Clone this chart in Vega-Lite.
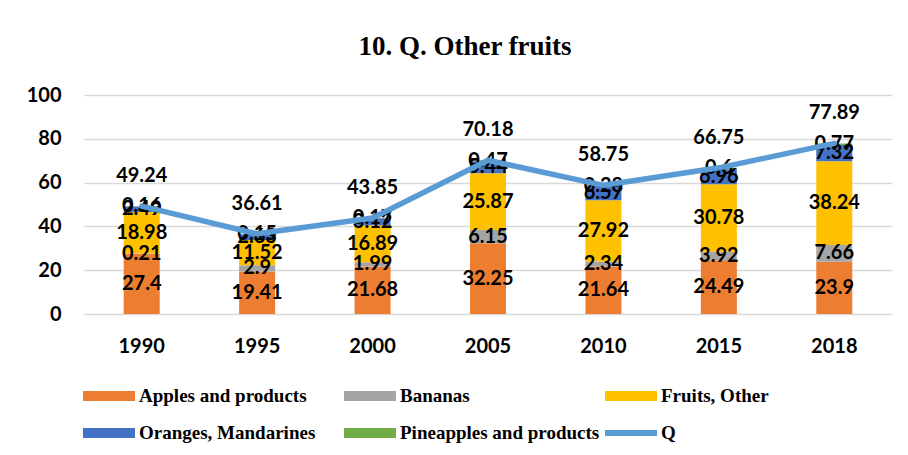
{
  "$schema": "https://vega.github.io/schema/vega-lite/v6.json",
  "autosize": {"type": "none"},
  "width": 808,
  "height": 219,
  "padding": {"left": 84, "top": 95, "right": 16, "bottom": 141},
  "background": "white",
  "title": {
    "text": "10. Q. Other fruits",
    "font": "Liberation Serif",
    "fontSize": 27,
    "fontWeight": "bold",
    "color": "black",
    "anchor": "middle",
    "frame": "group",
    "baseline": "alphabetic",
    "offset": 3,
    "dx": -23
  },
  "data": {
    "values": [
      {"year": "1990", "series": "Apples and products", "value": 27.4},
      {"year": "1990", "series": "Bananas", "value": 0.21},
      {"year": "1990", "series": "Fruits, Other", "value": 18.98},
      {"year": "1990", "series": "Oranges, Mandarines", "value": 2.49},
      {"year": "1990", "series": "Pineapples and products", "value": 0.16},
      {"year": "1990", "series": "Q", "value": 49.24},
      {"year": "1995", "series": "Apples and products", "value": 19.41},
      {"year": "1995", "series": "Bananas", "value": 2.9},
      {"year": "1995", "series": "Fruits, Other", "value": 11.52},
      {"year": "1995", "series": "Oranges, Mandarines", "value": 2.63},
      {"year": "1995", "series": "Pineapples and products", "value": 0.15},
      {"year": "1995", "series": "Q", "value": 36.61},
      {"year": "2000", "series": "Apples and products", "value": 21.68},
      {"year": "2000", "series": "Bananas", "value": 1.99},
      {"year": "2000", "series": "Fruits, Other", "value": 16.89},
      {"year": "2000", "series": "Oranges, Mandarines", "value": 3.12},
      {"year": "2000", "series": "Pineapples and products", "value": 0.17},
      {"year": "2000", "series": "Q", "value": 43.85},
      {"year": "2005", "series": "Apples and products", "value": 32.25},
      {"year": "2005", "series": "Bananas", "value": 6.15},
      {"year": "2005", "series": "Fruits, Other", "value": 25.87},
      {"year": "2005", "series": "Oranges, Mandarines", "value": 5.44},
      {"year": "2005", "series": "Pineapples and products", "value": 0.47},
      {"year": "2005", "series": "Q", "value": 70.18},
      {"year": "2010", "series": "Apples and products", "value": 21.64},
      {"year": "2010", "series": "Bananas", "value": 2.34},
      {"year": "2010", "series": "Fruits, Other", "value": 27.92},
      {"year": "2010", "series": "Oranges, Mandarines", "value": 6.57},
      {"year": "2010", "series": "Pineapples and products", "value": 0.28},
      {"year": "2010", "series": "Q", "value": 58.75},
      {"year": "2015", "series": "Apples and products", "value": 24.49},
      {"year": "2015", "series": "Bananas", "value": 3.92},
      {"year": "2015", "series": "Fruits, Other", "value": 30.78},
      {"year": "2015", "series": "Oranges, Mandarines", "value": 6.96},
      {"year": "2015", "series": "Pineapples and products", "value": 0.6},
      {"year": "2015", "series": "Q", "value": 66.75},
      {"year": "2018", "series": "Apples and products", "value": 23.9},
      {"year": "2018", "series": "Bananas", "value": 7.66},
      {"year": "2018", "series": "Fruits, Other", "value": 38.24},
      {"year": "2018", "series": "Oranges, Mandarines", "value": 7.32},
      {"year": "2018", "series": "Pineapples and products", "value": 0.77},
      {"year": "2018", "series": "Q", "value": 77.89}
    ]
  },
  "encoding": {
    "x": {
      "field": "year",
      "type": "nominal",
      "title": null,
      "scale": {"paddingInner": 0.69, "paddingOuter": 0.345},
      "axis": {
        "labelAngle": 0,
        "labelFont": "Lato",
        "labelFontWeight": "bold",
        "labelFontSize": 20,
        "labelColor": "black",
        "labelBaseline": "middle",
        "labelPadding": 32,
        "ticks": false,
        "domain": false,
        "grid": false
      }
    }
  },
  "layer": [
    {
      "transform": [{"filter": "datum.series !== 'Q'"}],
      "mark": {"type": "bar", "width": 36},
      "encoding": {
        "y": {
          "field": "value",
          "type": "quantitative",
          "stack": "zero",
          "title": null,
          "scale": {"domain": [0, 100], "nice": false},
          "axis": {
            "values": [0, 20, 40, 60, 80, 100],
            "labelFont": "Lato",
            "labelFontWeight": "bold",
            "labelFontSize": 20,
            "labelColor": "black",
            "labelPadding": 23,
            "ticks": false,
            "domain": false,
            "grid": true,
            "gridColor": "#d9d9d9",
            "gridWidth": 1.5
          }
        },
        "color": {
          "field": "series",
          "type": "nominal",
          "scale": {
            "domain": ["Apples and products", "Bananas", "Fruits, Other", "Oranges, Mandarines", "Pineapples and products", "Q"],
            "range": ["#ED7D31", "#A5A5A5", "#FFC000", "#4472C4", "#70AD47", "#5B9BD5"]
          },
          "legend": {
            "title": null,
            "orient": "none",
            "direction": "horizontal",
            "legendX": -1,
            "legendY": 275,
            "columns": 3,
            "gridAlign": "all",
            "columnPadding": 5,
            "rowPadding": 1,
            "padding": 0,
            "labelFont": "Liberation Serif",
            "labelFontWeight": "bold",
            "labelFontSize": 19,
            "labelColor": "black",
            "labelOffset": 4,
            "labelLimit": 400,
            "symbolSize": 2704,
            "symbolType": "M-1,-0.19H1V0.19H-1Z",
            "symbolStrokeWidth": 0,
            "encode": {
              "symbols": {
                "update": {
                  "shape": {"signal": "datum.value === 'Q' ? 'M-1,-0.12H1V0.12H-1Z' : 'M-1,-0.19H1V0.19H-1Z'"},
                  "fill": {"scale": "color", "field": "value"},
                  "strokeWidth": {"value": 0},
                  "opacity": {"value": 1}
                }
              }
            }
          }
        },
        "order": {"field": "series", "sort": "ascending"}
      }
    },
    {
      "transform": [{"filter": "datum.series !== 'Q'"}],
      "mark": {"type": "text", "font": "Lato", "fontWeight": "bold", "fontSize": 20, "color": "black", "baseline": "middle"},
      "encoding": {
        "y": {"field": "value", "type": "quantitative", "stack": "zero", "bandPosition": 0.5},
        "detail": {"field": "series"},
        "order": {"field": "series", "sort": "ascending"},
        "text": {"field": "value", "type": "nominal"}
      }
    },
    {
      "transform": [{"filter": "datum.series === 'Q'"}],
      "mark": {"type": "line", "strokeWidth": 5.5, "strokeCap": "round", "strokeJoin": "round"},
      "encoding": {
        "y": {"field": "value", "type": "quantitative"},
        "color": {"field": "series", "type": "nominal"}
      }
    },
    {
      "transform": [{"filter": "datum.series === 'Q'"}],
      "mark": {"type": "text", "font": "Lato", "fontWeight": "bold", "fontSize": 20, "color": "black", "baseline": "middle", "dy": -30},
      "encoding": {
        "y": {"field": "value", "type": "quantitative"},
        "text": {"field": "value", "type": "nominal"}
      }
    }
  ],
  "config": {
    "view": {"stroke": null}
  }
}
